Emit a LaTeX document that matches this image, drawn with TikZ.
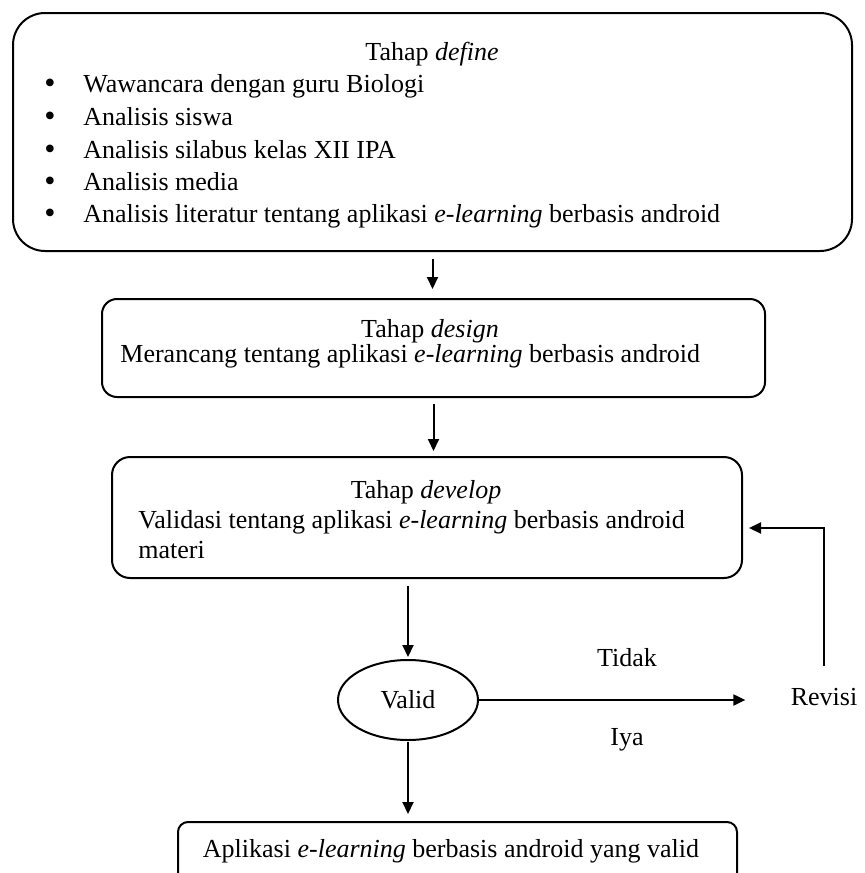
\documentclass[tikz,border=0pt]{standalone}
\usepackage{fontspec}
\setmainfont{Liberation Serif}
\usetikzlibrary{arrows.meta,shapes.geometric,calc}
\begin{document}
\begin{tikzpicture}[x=0.5pt,y=-0.5pt,
  box/.style={draw, line width=1pt, rectangle, inner sep=0pt},
  txt/.style={inner sep=0pt, anchor=base west, font=\fontsize{13}{16}\selectfont},
  ctxt/.style={txt, anchor=base},
  blt/.style={inner sep=0pt, anchor=base, font=\fontsize{16}{16}\selectfont},
  arr/.style={line width=1pt, -{Triangle[length=6pt,width=5.5pt]}}]
\useasboundingbox (0,0) rectangle (864,873);
\clip (0,0) rectangle (864,873);

% stage boxes
\node[box, rounded corners=16pt, minimum width=419.5pt, minimum height=119pt] (b1) at (432.5,132) {};
\node[box, rounded corners=7.5pt, minimum width=331.5pt, minimum height=49pt] (b2) at (433.5,348) {};
\node[box, rounded corners=9pt, minimum width=315pt, minimum height=60.5pt] (b3) at (427,517.5) {};
\node[box, rounded corners=5pt, minimum width=279.5pt, minimum height=39pt] (fin) at (457.5,861) {};
\node[draw, line width=1pt, ellipse, inner sep=0pt, minimum width=70pt, minimum height=40pt,
      font=\fontsize{13}{16}\selectfont] (valid) at (408,700) {Valid};

% define stage text
\node[ctxt] (t1) at (432,60) {Tahap \textit{define}};
\foreach \y/\s [count=\i] in {92/{Wawancara dengan guru Biologi},
                    125/{Analisis siswa},
                    158/{Analisis silabus kelas XII IPA},
                    190/{Analisis media},
                    222/{Analisis literatur tentang aplikasi \textit{e-learning} berbasis android}} {
  \node[blt] (bl\i) at (50,\y+1) {•};
  \node[txt] (it\i) at (83,\y) {\s};
}

% design stage text
\node[ctxt] (t2a) at (430,337) {Tahap \textit{design}};
\node[txt] (t2b) at (120,362) {Merancang tentang aplikasi \textit{e-learning} berbasis android};

% develop stage text
\node[ctxt] (t3a) at (426,498) {Tahap \textit{develop}};
\node[txt] (t3b) at (138,528) {Validasi tentang aplikasi \textit{e-learning} berbasis android};
\node[txt] (t3c) at (138,558) {materi};

% decision labels and result
\node[ctxt] (tidak) at (627,666) {Tidak};
\node[ctxt] (iya) at (627,745) {Iya};
\node[ctxt] (revisi) at (824,705) {Revisi};
\node[ctxt] (tfin) at (451,857) {Aplikasi \textit{e-learning} berbasis android yang valid};

% connectors
\draw[arr, shorten <=3.5pt, shorten >=4.5pt] (b1.south) -- (b1.south |- b2.north);
\draw[arr, shorten <=3pt, shorten >=2.5pt] (b2.south) -- (b2.south |- b3.north);
\draw[arr, shorten <=3.5pt, shorten >=1pt] (valid.north |- b3.south) -- (valid.north);
\draw[arr, shorten <=0.5pt, shorten >=3.5pt] (valid.south) -- (valid.south |- fin.north);
\draw[arr, shorten >=22.5pt] (valid.east) -- (valid.east -| revisi.west);
\coordinate (fb) at (825,528);
\draw[arr, shorten <=10.5pt, shorten >=3pt] (revisi.north) -- (revisi.north |- fb) -- (fb -| b3.east);
\end{tikzpicture}
\end{document}
